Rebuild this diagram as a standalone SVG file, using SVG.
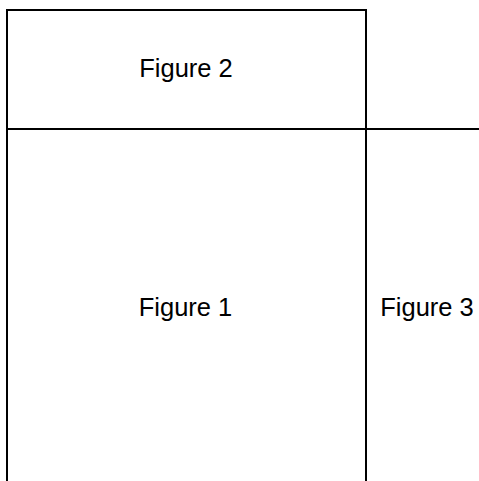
<svg xmlns="http://www.w3.org/2000/svg" width="479" height="481" viewBox="0 0 479 481">
<style>
.ln{stroke:#000;stroke-width:2;fill:none}
.lb{font-family:"Liberation Sans",Arial,sans-serif;font-size:25.5px;fill:#000;text-anchor:middle}
</style>
<rect width="479" height="481" fill="#fff"/>
<g id="connectors">
<line class="ln" x1="7" y1="10" x2="366" y2="10"/>
<line class="ln" x1="7" y1="9" x2="7" y2="481"/>
<line class="ln" x1="366" y1="9" x2="366" y2="481"/>
<line class="ln" x1="7" y1="129" x2="479" y2="129"/>
</g>
<g id="figure2"><text class="lb" x="186" y="76.5">Figure 2</text></g>
<g id="figure1"><text class="lb" x="185.5" y="315.5">Figure 1</text></g>
<g id="figure3"><text class="lb" x="427" y="315.5">Figure 3</text></g>
</svg>
